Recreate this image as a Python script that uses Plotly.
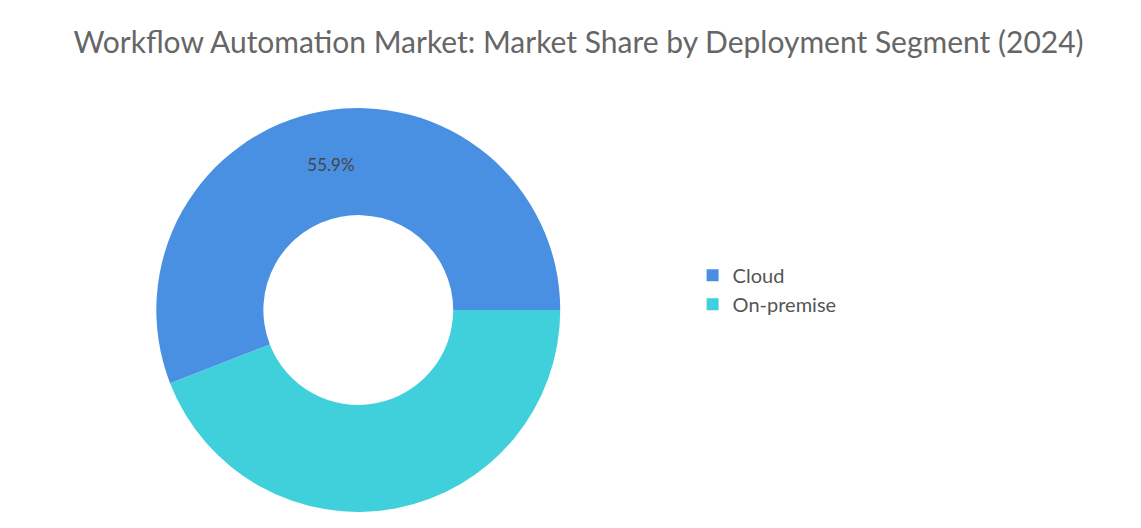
import plotly.graph_objects as go

segments = ["On-premise", "Cloud"]
shares = [44.1, 55.9]
colors = ["#3fd0db", "#4a90e2"]
labels_text = ["", "55.9%"]

fig = go.Figure(go.Pie(
    labels=segments,
    values=shares,
    text=labels_text,
    textinfo="text",
    textposition="inside",
    insidetextfont=dict(color="#444444", size=17),
    hole=0.47,
    sort=False,
    direction="clockwise",
    rotation=90,
    marker=dict(colors=colors),
    domain=dict(x=[0.13, 0.484], y=[0, 1]),
))

fig.update_layout(
    width=1141, height=528,
    margin=dict(l=0, r=0, t=100, b=24),
    font=dict(family="Lato, sans-serif", color="#555555"),
    title=dict(text="Workflow Automation Market: Market Share by Deployment Segment (2024)",
               x=0.5, y=0.955, xanchor="center",
               font=dict(size=30, color="#666666")),
    legend=dict(x=0.6, y=0.55, xanchor="left", yanchor="middle",
                traceorder="reversed",
                font=dict(size=20, color="#555555")),
    paper_bgcolor="white",
)

fig.write_html("out.html")
